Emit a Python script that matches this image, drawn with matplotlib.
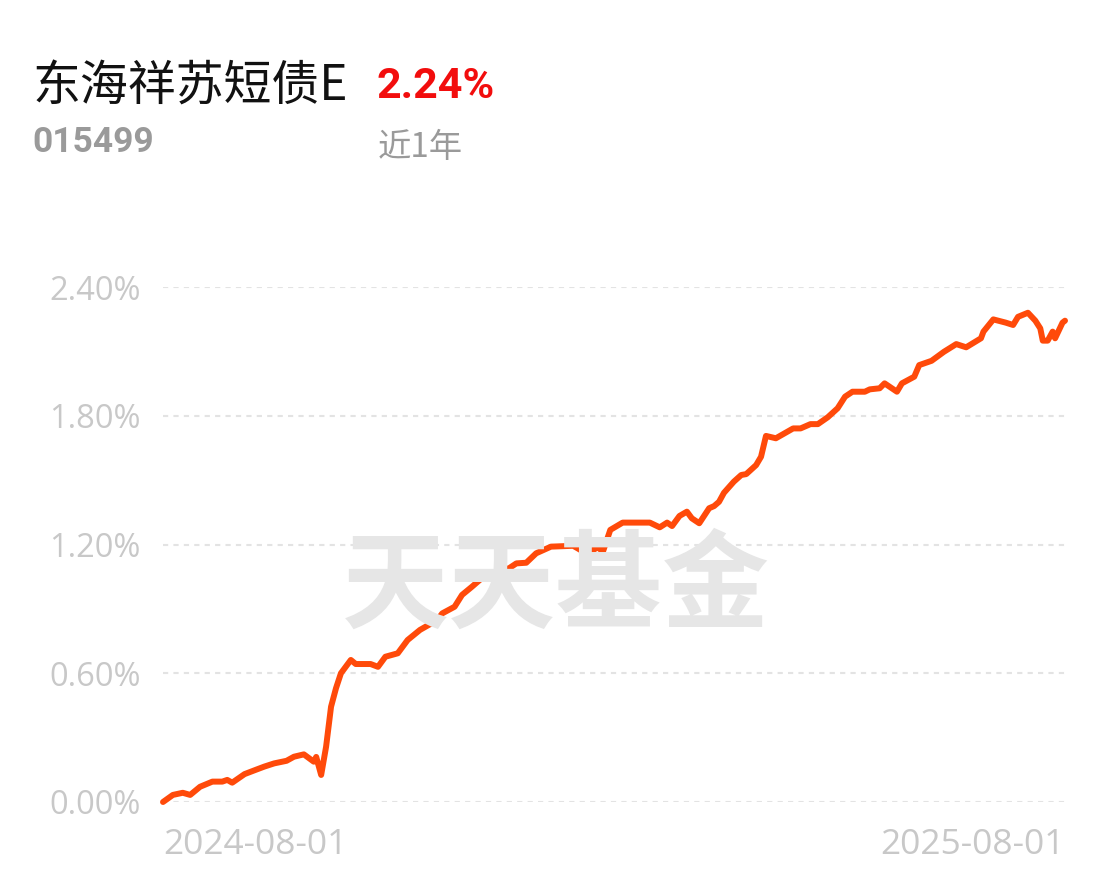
import matplotlib
matplotlib.use('Agg')
import matplotlib.pyplot as plt
import pandas as pd

# 近1年收益走势 (%)
dates = [
    '2024-08-01', '2024-08-05', '2024-08-09', '2024-08-12', '2024-08-16', '2024-08-21',
    '2024-08-25', '2024-08-27', '2024-08-29', '2024-09-03', '2024-09-08', '2024-09-11',
    '2024-09-15', '2024-09-20', '2024-09-23', '2024-09-27', '2024-10-01', '2024-10-02',
    '2024-10-04', '2024-10-06', '2024-10-08', '2024-10-10', '2024-10-12', '2024-10-16',
    '2024-10-18', '2024-10-24', '2024-10-27', '2024-10-30', '2024-11-04', '2024-11-08',
    '2024-11-13', '2024-11-20', '2024-11-22', '2024-11-27', '2024-11-30', '2024-12-04',
    '2024-12-09', '2024-12-12', '2024-12-15', '2024-12-19', '2024-12-22', '2024-12-26',
    '2024-12-30', '2025-01-05', '2025-01-14', '2025-01-17', '2025-01-22', '2025-01-24',
    '2025-01-26', '2025-01-29', '2025-02-03', '2025-02-14', '2025-02-18', '2025-02-21',
    '2025-02-23', '2025-02-26', '2025-03-01', '2025-03-03', '2025-03-06', '2025-03-10',
    '2025-03-12', '2025-03-14', '2025-03-16', '2025-03-20', '2025-03-23', '2025-03-25',
    '2025-03-29', '2025-03-31', '2025-04-02', '2025-04-06', '2025-04-13', '2025-04-16',
    '2025-04-20', '2025-04-23', '2025-04-27', '2025-05-01', '2025-05-04', '2025-05-07',
    '2025-05-12', '2025-05-14', '2025-05-18', '2025-05-20', '2025-05-25', '2025-05-27',
    '2025-06-01', '2025-06-03', '2025-06-08', '2025-06-13', '2025-06-18', '2025-06-22',
    '2025-06-28', '2025-06-29', '2025-07-03', '2025-07-08', '2025-07-11', '2025-07-13',
    '2025-07-17', '2025-07-20', '2025-07-22', '2025-07-23', '2025-07-25', '2025-07-27',
    '2025-07-28', '2025-07-31', '2025-08-01',
]
returns = [
    0.000, 0.033, 0.043, 0.033, 0.071, 0.095,
    0.095, 0.103, 0.090, 0.130, 0.152, 0.165,
    0.180, 0.192, 0.211, 0.222, 0.188, 0.210,
    0.126, 0.258, 0.444, 0.530, 0.600, 0.662,
    0.643, 0.643, 0.630, 0.677, 0.693, 0.755,
    0.802, 0.848, 0.879, 0.910, 0.965, 1.003,
    1.053, 1.053, 1.081, 1.089, 1.112, 1.115,
    1.159, 1.190, 1.194, 1.174, 1.174, 1.187,
    1.166, 1.268, 1.302, 1.302, 1.280, 1.302,
    1.286, 1.333, 1.353, 1.322, 1.299, 1.369,
    1.379, 1.399, 1.441, 1.493, 1.524, 1.528,
    1.570, 1.609, 1.706, 1.695, 1.741, 1.741,
    1.761, 1.761, 1.793, 1.835, 1.889, 1.912,
    1.912, 1.923, 1.928, 1.951, 1.912, 1.951,
    1.982, 2.036, 2.056, 2.098, 2.134, 2.119,
    2.161, 2.192, 2.249, 2.234, 2.223, 2.261,
    2.280, 2.243, 2.207, 2.150, 2.150, 2.192,
    2.161, 2.234, 2.243,
]
y_ticks = [0.0, 0.6, 1.2, 1.8, 2.4]
x_labels = ['2024-08-01', '2025-08-01']

fund_name = '东海祥苏短债E'
fund_code = '015499'
period_return = '2.24%'
period_label = '近1年'

W, H = 1110, 876
fig = plt.figure(figsize=(W / 100, H / 100), dpi=100)
fig.patch.set_facecolor('white')

cjk = ['Noto Sans CJK SC', 'DejaVu Sans']
grey_txt = '#c8c8c8'

# 坐标区
ax = fig.add_axes([163 / W, (H - 802) / H, (1065 - 163) / W, (802 - 287) / H])
x = pd.to_datetime(dates)
ax.plot(x, returns, color='#ff4a0a', lw=4.3, solid_joinstyle='round',
        solid_capstyle='round', clip_on=False, zorder=3)

ax.set_xlim(pd.Timestamp(x_labels[0]), pd.Timestamp(x_labels[1]))
ax.set_ylim(y_ticks[0], y_ticks[-1])
ax.set_yticks(y_ticks)
ax.set_yticklabels([f'{v:.2f}%' for v in y_ticks])
ax.set_xticks([pd.Timestamp(d) for d in x_labels])
ax.set_xticklabels(x_labels)
for lbl, ha in zip(ax.get_xticklabels(), ['left', 'right']):
    lbl.set_horizontalalignment(ha)

ax.tick_params(length=0, colors=grey_txt)
ax.tick_params(axis='y', pad=16, labelsize=23.5)
ax.tick_params(axis='x', pad=19, labelsize=25.5)
for lbl in ax.get_xticklabels() + ax.get_yticklabels():
    lbl.set_fontfamily('Open Sans')
    lbl.set_color(grey_txt)

for s in ax.spines.values():
    s.set_visible(False)
ax.yaxis.grid(True, color='#e3e3e3', lw=1.5, linestyle=(0, (2.5, 2.5)), zorder=0)
ax.xaxis.grid(False)
ax.set_axisbelow(True)

# 水印
fig.text(556 / W, 1 - 588 / H, '天天基金', fontsize=77, fontweight='heavy',
         family=cjk, color='#e6e6e6', ha='center', va='center', zorder=1)

# 标题
fig.text(33 / W, 1 - 87 / H, fund_name, fontsize=34.5, family=cjk,
         color='#111111', ha='left', va='center')
fig.text(377 / W, 1 - 87 / H, period_return, fontsize=31, fontweight='bold',
         family=['Roboto', 'DejaVu Sans'], color='#f20d0d', ha='left', va='center')
fig.text(32 / W, 1 - 143 / H, fund_code, fontsize=25.5, fontweight='bold',
         family=['Roboto', 'DejaVu Sans'], color='#9a9a9a', ha='left', va='center')
fig.text(378 / W, 1 - 147 / H, period_label, fontsize=24, family=cjk,
         color='#9a9a9a', ha='left', va='center')

fig.savefig('out.png', dpi=100, facecolor='white')
